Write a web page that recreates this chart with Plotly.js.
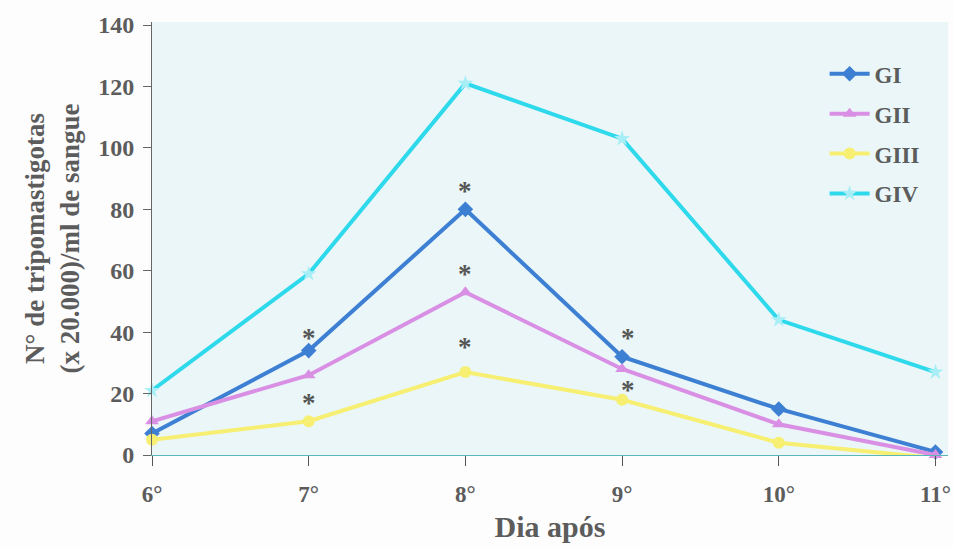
<!DOCTYPE html>
<html>
<head>
<meta charset="utf-8">
<script src="https://cdn.plot.ly/plotly-3.0.1.min.js"></script>
<style>html,body{margin:0;padding:0;background:#fdfdfd;}#chart{width:954px;height:547px;}</style>
</head>
<body>
<div id="chart"></div>
<script>
const days = ["6°", "7°", "8°", "9°", "10°", "11°"];
const dayIndex = [0, 1, 2, 3, 4, 5];
const gI   = [7, 34, 80, 32, 15, 1];
const gII  = [11, 26, 53, 28, 10, 0];
const gIII = [5, 11, 27, 18, 4, -1];
const gIV  = [21, 59, 121, 103, 44, 27];
const starX = [1, 1, 2, 2, 2, 3.04, 3.04];
const starY = [40, 19, 88, 61, 37, 40, 23];
const yTicks = [0, 20, 40, 60, 80, 100, 120, 140];

function series(name, y, color, symbol, mcolor) {
  return {
    x: dayIndex, y: y, name: name, legendgroup: name, type: "scatter", mode: "lines+markers",
    line: {color: color, width: 4},
    marker: {symbol: symbol, size: 12, color: mcolor || color, line: {width: 0}},
    cliponaxis: false
  };
}
const data = [
  series("GI", gI, "#3d7fd3", "diamond"),
  series("GII", gII, "#d98fe3", "triangle-up"),
  series("GIII", gIII, "#f7ef72", "circle"),
  series("GIV", gIV, "#2fd9ec", "star", "#a8eef6")
];
const annotations = starX.map((x, i) => ({
  x: x, y: starY[i], text: "*", showarrow: false,
  font: {family: "Liberation Serif", size: 27, color: "#555"},
  yanchor: "middle", yshift: -6
}));
const txt = "#5c5c5c";
const layout = {
  width: 954, height: 547,
  margin: {l: 152, r: 6, t: 22, b: 92},
  paper_bgcolor: "#fdfdfd",
  plot_bgcolor: "#eaf6f8",
  font: {family: "Liberation Serif", color: txt, weight: "bold"},
  showlegend: true,
  legend: {x: 0.845, y: 0.93, xanchor: "left", yanchor: "top",
    bgcolor: "rgba(0,0,0,0)", font: {size: 23, color: txt, weight: "bold"},
    tracegroupgap: 7, itemwidth: 40},
  xaxis: {
    range: [0, 5.08], tickvals: dayIndex, ticktext: days,
    showgrid: false, zeroline: false, showline: true, linecolor: "#5ab7b7", linewidth: 1,
    ticks: "outside", ticklen: 10, tickcolor: "#555", ticklabelstandoff: 8,
    tickfont: {size: 23, color: txt, weight: "bold"},
    title: {text: "Dia após", font: {size: 30, color: txt, weight: "bold"}, standoff: 10}
  },
  yaxis: {
    range: [0, 141], tickvals: yTicks,
    showgrid: false, zeroline: false, showline: true, linecolor: "#666", linewidth: 1,
    ticks: "outside", ticklen: 8, tickcolor: "#666", ticklabelstandoff: 4,
    tickfont: {size: 24, color: txt, weight: "bold"},
    title: {text: "N° de tripomastigotas<br>(x 20.000)/ml de sangue", font: {size: 27, color: txt, weight: "bold"}, standoff: 10}
  },
  annotations: annotations
};
Plotly.newPlot("chart", data, layout, {displayModeBar: false, staticPlot: true});
</script>
</body>
</html>
